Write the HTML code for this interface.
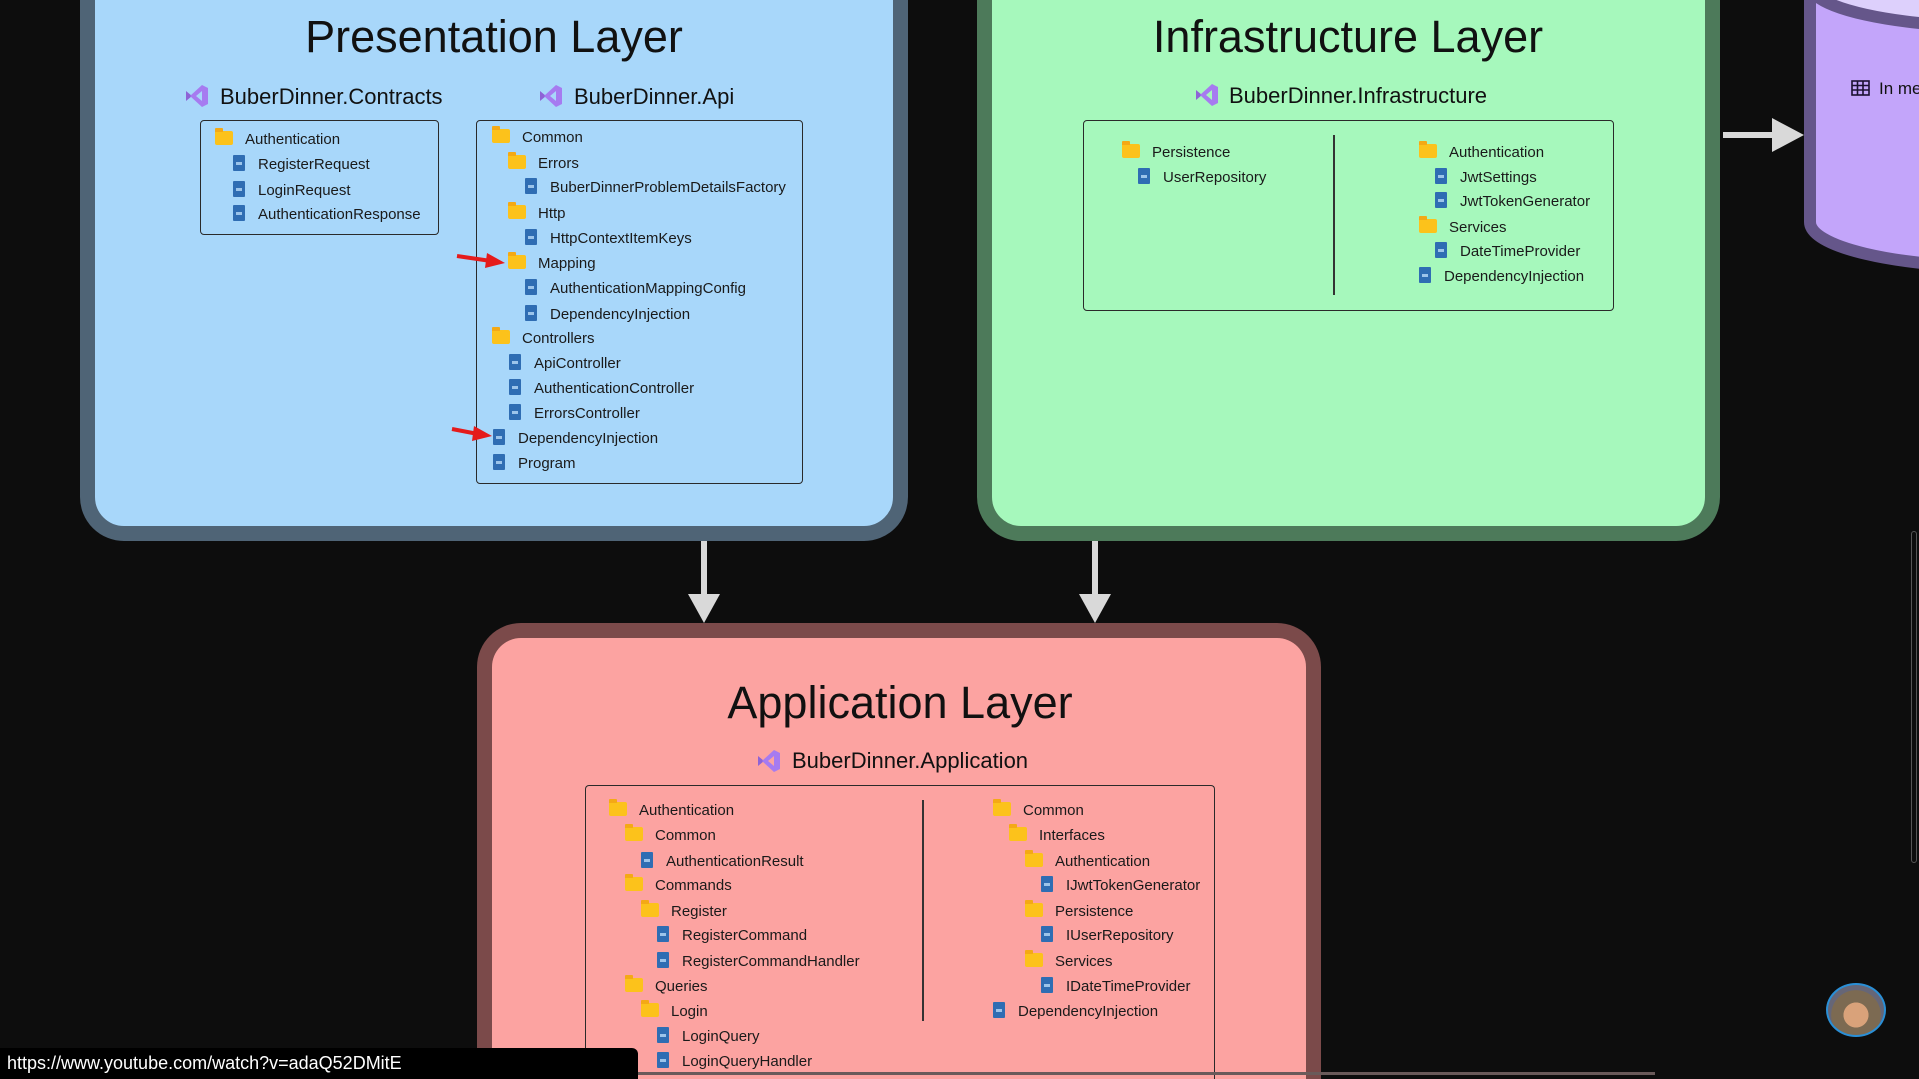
<!DOCTYPE html>
<html><head><meta charset="utf-8">
<style>
*{margin:0;padding:0;box-sizing:border-box}
html{width:1919px;height:1079px;overflow:hidden;background:#0d0d0d}
body{width:1919px;height:1079px;background:#0d0d0d;position:relative;overflow:hidden;font-family:"Liberation Sans",sans-serif;color:#1a1a1a}
.a{position:absolute}
.layer{position:absolute;border-style:solid;border-width:15px;border-radius:44px}
.title{position:absolute;font-size:45px;text-align:center;transform:translateX(-50%);white-space:nowrap;line-height:50px;color:#111}
.sub{position:absolute;font-size:22px;white-space:nowrap;line-height:26px;color:#111}
.box{position:absolute;border:1.5px solid #2a2a2a;border-radius:4px}
.r{position:absolute;font-size:15px;line-height:20px;white-space:nowrap;color:#1a1a1a}
.fo,.fi{display:inline-block;vertical-align:middle;position:relative;margin-right:12px;top:-2px}
.fo{width:18px;height:14px;background:#fcc21b;border-radius:1px 2px 2px 2px}
.fo:before{content:"";position:absolute;left:0;top:-3px;width:8px;height:4px;background:#f4a915;border-radius:1px 1px 0 0}
.fi{width:12px;height:16px;background:#2f6db3;border-radius:1px;margin-left:2px;margin-right:13px}
.fi:after{content:"";position:absolute;left:3px;top:7px;width:6px;height:3px;background:#9cc4ea}
.vs{position:absolute;width:26px;height:24px}
</style></head><body>

<!-- Presentation layer -->
<div class="layer" style="left:80px;top:-60px;width:828px;height:601px;background:#a8d7fa;border-color:#4f6476"></div>
<div class="title" style="left:494px;top:12px">Presentation Layer</div>
<svg class="vs" style="left:184px;top:84px" viewBox="0 0 26 24"><path d="M2 7 L8 12 L2 17 Z" fill="#8e63d6"/><path d="M18 1 L24 4 L24 20 L18 23 L6 12 Z" fill="#a67bf0"/><path d="M18 7 L12 12 L18 17 Z" fill="#a8d7fa"/></svg>
<div class="sub" style="left:220px;top:84px">BuberDinner.Contracts</div>
<svg class="vs" style="left:538px;top:84px" viewBox="0 0 26 24"><path d="M2 7 L8 12 L2 17 Z" fill="#8e63d6"/><path d="M18 1 L24 4 L24 20 L18 23 L6 12 Z" fill="#a67bf0"/><path d="M18 7 L12 12 L18 17 Z" fill="#a8d7fa"/></svg>
<div class="sub" style="left:574px;top:84px">BuberDinner.Api</div>

<div class="box" style="left:200px;top:120px;width:239px;height:115px"></div>
<div class="r" style="left:215px;top:130px"><i class="fo"></i>Authentication</div>
<div class="r" style="left:231px;top:155px"><i class="fi"></i>RegisterRequest</div>
<div class="r" style="left:231px;top:181px"><i class="fi"></i>LoginRequest</div>
<div class="r" style="left:231px;top:205px"><i class="fi"></i>AuthenticationResponse</div>

<div class="box" style="left:476px;top:120px;width:327px;height:364px"></div>
<div class="r" style="left:492px;top:128px"><i class="fo"></i>Common</div>
<div class="r" style="left:508px;top:154px"><i class="fo"></i>Errors</div>
<div class="r" style="left:523px;top:178px"><i class="fi"></i>BuberDinnerProblemDetailsFactory</div>
<div class="r" style="left:508px;top:204px"><i class="fo"></i>Http</div>
<div class="r" style="left:523px;top:229px"><i class="fi"></i>HttpContextItemKeys</div>
<div class="r" style="left:508px;top:254px"><i class="fo"></i>Mapping</div>
<div class="r" style="left:523px;top:279px"><i class="fi"></i>AuthenticationMappingConfig</div>
<div class="r" style="left:523px;top:305px"><i class="fi"></i>DependencyInjection</div>
<div class="r" style="left:492px;top:329px"><i class="fo"></i>Controllers</div>
<div class="r" style="left:507px;top:354px"><i class="fi"></i>ApiController</div>
<div class="r" style="left:507px;top:379px"><i class="fi"></i>AuthenticationController</div>
<div class="r" style="left:507px;top:404px"><i class="fi"></i>ErrorsController</div>
<div class="r" style="left:491px;top:429px"><i class="fi"></i>DependencyInjection</div>
<div class="r" style="left:491px;top:454px"><i class="fi"></i>Program</div>

<svg class="a" style="left:455px;top:250px" width="55" height="20"><path d="M2 6 L36 11" stroke="#e51b1b" stroke-width="4"/><path d="M32 3 L50 13 L30 18 Z" fill="#e51b1b"/></svg>
<svg class="a" style="left:450px;top:424px" width="45" height="20"><path d="M2 5 L28 10" stroke="#e51b1b" stroke-width="4"/><path d="M24 2 L42 12 L22 17 Z" fill="#e51b1b"/></svg>

<!-- Infrastructure -->
<div class="layer" style="left:977px;top:-60px;width:743px;height:601px;background:#a6f8bc;border-color:#4d7a5a"></div>
<div class="title" style="left:1348px;top:12px">Infrastructure Layer</div>
<svg class="vs" style="left:1194px;top:83px" viewBox="0 0 26 24"><path d="M2 7 L8 12 L2 17 Z" fill="#8e63d6"/><path d="M18 1 L24 4 L24 20 L18 23 L6 12 Z" fill="#a67bf0"/><path d="M18 7 L12 12 L18 17 Z" fill="#a6f8bc"/></svg>
<div class="sub" style="left:1229px;top:83px">BuberDinner.Infrastructure</div>
<div class="box" style="left:1083px;top:120px;width:531px;height:191px"></div>
<div class="a" style="left:1333px;top:135px;width:1.5px;height:160px;background:#333"></div>
<div class="r" style="left:1122px;top:143px"><i class="fo"></i>Persistence</div>
<div class="r" style="left:1136px;top:168px"><i class="fi"></i>UserRepository</div>
<div class="r" style="left:1419px;top:143px"><i class="fo"></i>Authentication</div>
<div class="r" style="left:1433px;top:168px"><i class="fi"></i>JwtSettings</div>
<div class="r" style="left:1433px;top:192px"><i class="fi"></i>JwtTokenGenerator</div>
<div class="r" style="left:1419px;top:218px"><i class="fo"></i>Services</div>
<div class="r" style="left:1433px;top:242px"><i class="fi"></i>DateTimeProvider</div>
<div class="r" style="left:1417px;top:267px"><i class="fi"></i>DependencyInjection</div>

<!-- Cylinder -->
<svg class="a" style="left:1790px;top:0" width="129" height="300" viewBox="1790 0 129 300">
<ellipse cx="2000" cy="222" rx="190" ry="45" fill="#c3a5fa" stroke="#65568a" stroke-width="12"/>
<rect x="1810" y="-10" width="400" height="232" fill="#c3a5fa"/>
<line x1="1810" y1="-10" x2="1810" y2="222" stroke="#65568a" stroke-width="12"/>
<ellipse cx="2000" cy="-15" rx="190" ry="42" fill="#ddd0fc" stroke="#65568a" stroke-width="12"/>
<g fill="none" stroke="#1a1030" stroke-width="1.6"><rect x="1852" y="81" width="17" height="14"/><line x1="1852" y1="85.5" x2="1869" y2="85.5"/><line x1="1852" y1="90" x2="1869" y2="90"/><line x1="1857.5" y1="81" x2="1857.5" y2="95"/><line x1="1863" y1="81" x2="1863" y2="95"/></g>
<text x="1879" y="94" font-family="Liberation Sans" font-size="17" fill="#111">In memory</text>
</svg>

<!-- Arrows -->
<svg class="a" style="left:0;top:0" width="1919" height="700">
<g fill="#d9d9d9"><rect x="701" y="541" width="6" height="55"/><path d="M688 594 L720 594 L704 623 Z"/>
<rect x="1092" y="541" width="6" height="55"/><path d="M1079 594 L1111 594 L1095 623 Z"/>
<rect x="1723" y="132" width="52" height="6"/><path d="M1772 118 L1804 135 L1772 152 Z"/></g>
</svg>

<!-- Application -->
<div class="layer" style="left:477px;top:623px;width:844px;height:456px;background:#fca3a1;border-color:#7b4a4a;border-bottom:none;border-radius:44px 44px 0 0"></div>
<div class="title" style="left:900px;top:678px">Application Layer</div>
<svg class="vs" style="left:756px;top:749px" viewBox="0 0 26 24"><path d="M2 7 L8 12 L2 17 Z" fill="#8e63d6"/><path d="M18 1 L24 4 L24 20 L18 23 L6 12 Z" fill="#a67bf0"/><path d="M18 7 L12 12 L18 17 Z" fill="#fca3a1"/></svg>
<div class="sub" style="left:792px;top:748px">BuberDinner.Application</div>
<div class="box" style="left:585px;top:785px;width:630px;height:294px;border-bottom:none;border-radius:4px 4px 0 0"></div>
<div class="a" style="left:922px;top:800px;width:1.5px;height:221px;background:#333"></div>
<div class="r" style="left:609px;top:801px"><i class="fo"></i>Authentication</div>
<div class="r" style="left:625px;top:826px"><i class="fo"></i>Common</div>
<div class="r" style="left:639px;top:852px"><i class="fi"></i>AuthenticationResult</div>
<div class="r" style="left:625px;top:876px"><i class="fo"></i>Commands</div>
<div class="r" style="left:641px;top:902px"><i class="fo"></i>Register</div>
<div class="r" style="left:655px;top:926px"><i class="fi"></i>RegisterCommand</div>
<div class="r" style="left:655px;top:952px"><i class="fi"></i>RegisterCommandHandler</div>
<div class="r" style="left:625px;top:977px"><i class="fo"></i>Queries</div>
<div class="r" style="left:641px;top:1002px"><i class="fo"></i>Login</div>
<div class="r" style="left:655px;top:1027px"><i class="fi"></i>LoginQuery</div>
<div class="r" style="left:655px;top:1052px"><i class="fi"></i>LoginQueryHandler</div>
<div class="r" style="left:993px;top:801px"><i class="fo"></i>Common</div>
<div class="r" style="left:1009px;top:826px"><i class="fo"></i>Interfaces</div>
<div class="r" style="left:1025px;top:852px"><i class="fo"></i>Authentication</div>
<div class="r" style="left:1039px;top:876px"><i class="fi"></i>IJwtTokenGenerator</div>
<div class="r" style="left:1025px;top:902px"><i class="fo"></i>Persistence</div>
<div class="r" style="left:1039px;top:926px"><i class="fi"></i>IUserRepository</div>
<div class="r" style="left:1025px;top:952px"><i class="fo"></i>Services</div>
<div class="r" style="left:1039px;top:977px"><i class="fi"></i>IDateTimeProvider</div>
<div class="r" style="left:991px;top:1002px"><i class="fi"></i>DependencyInjection</div>

<div class="a" style="left:638px;top:1072px;width:1017px;height:3px;background:#6a5a5a"></div>

<!-- scrollbar & avatar -->
<div class="a" style="left:1911px;top:531px;width:6px;height:332px;border:1px solid #555;border-radius:3px"></div>
<div class="a" style="left:1826px;top:983px;width:60px;height:54px;border-radius:50%;background:radial-gradient(circle at 50% 60%,#d9a27a 0 30%,#7c6a52 31% 60%,#667 61%);border:2px solid #2a8fd6"></div>

<!-- URL bar -->
<div class="a" style="left:0;top:1048px;width:638px;height:31px;background:#000;border-radius:0 6px 0 0;color:#fff;font-size:18px;line-height:31px;padding-left:7px">https://www.youtube.com/watch?v=adaQ52DMitE</div>
</body></html>
